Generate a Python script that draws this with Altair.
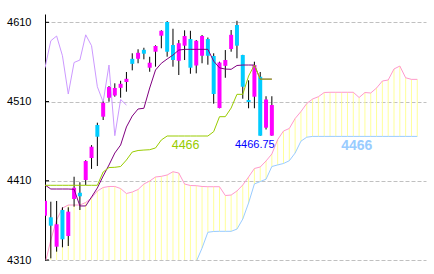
import altair as alt
import pandas as pd

# ---- candle data (index 0..39) ----
opens = [4365.9, 4363.9, 4326.8, 4373.1, 4340.3, 4387.0, 4394.9, 4411.0, 4438.7, 4480.4,
         4490.9, 4514.8, 4517.6, 4527.3, 4534.7, 4563.9, 4564.0, 4575.3, 4552.7, 4572.9,
         4593.1, 4610.4, 4581.4, 4561.5, 4580.5, 4588.9, 4555.5, 4567.8, 4588.9, 4567.5,
         4501.8, 4555.1, 4576.3, 4606.6, 4568.7, 4511.9, 4516.1, 4541.3, 4477.0, 4467.0]
closes = [4384.8, 4353.3, 4355.1, 4336.1, 4371.0, 4401.2, 4390.4, 4434.9, 4453.0, 4465.6,
          4508.5, 4528.3, 4527.1, 4532.4, 4538.7, 4557.6, 4571.5, 4570.4, 4559.0, 4580.1,
          4599.3, 4572.9, 4562.4, 4583.6, 4592.7, 4552.7, 4586.7, 4592.7, 4567.8, 4519.5,
          4559.3, 4562.4, 4594.2, 4580.5, 4528.7, 4509.4, 4556.1, 4466.9, 4512.6, 4505.6]
highs = [4388.0, 4383.6, 4384.5, 4376.5, 4376.5, 4415.1, 4408.1, 4436.0, 4455.0, 4483.3,
         4510.0, 4529.6, 4533.0, 4536.2, 4547.3, 4570.9, 4576.0, 4577.9, 4566.5, 4581.0,
         4600.0, 4611.6, 4601.9, 4587.7, 4599.9, 4599.3, 4587.7, 4594.0, 4590.8, 4570.9,
         4560.3, 4575.0, 4600.3, 4611.9, 4569.0, 4536.8, 4560.3, 4547.3, 4516.7, 4516.7]
lows = [4362.0, 4312.1, 4320.5, 4326.0, 4327.7, 4377.3, 4373.1, 4404.7, 4425.0, 4428.6,
        4486.7, 4509.8, 4516.1, 4514.8, 4522.4, 4549.4, 4558.3, 4563.3, 4547.6, 4554.0,
        4577.2, 4566.6, 4554.0, 4543.5, 4562.4, 4545.1, 4545.6, 4558.3, 4556.5, 4507.3,
        4501.5, 4540.0, 4572.9, 4564.6, 4513.6, 4501.5, 4501.5, 4466.9, 4474.7, 4466.75]

# ---- ichimoku lines ----
tenkan = [4404.7, 4399.6, 4399.6, 4399.6, 4399.6, 4399.2, 4378.2, 4378.2, 4389.5, 4400.9,
          4416.0, 4429.9, 4445.0, 4455.1, 4477.9, 4491.7, 4500.6, 4501.5, 4527.1, 4549.8,
          4558.3, 4563.7, 4568.7, 4575.0, 4575.9, 4575.9, 4575.9, 4575.9, 4575.9, 4561.0,
          4552.5, 4551.0, 4550.7, 4555.5, 4556.1, 4556.1, 4556.1, 4538.3, 4538.3, 4538.3]
kijun = [4404.3, 4404.3, 4404.3, 4404.3, 4404.3, 4404.3, 4404.3, 4404.3, 4404.3, 4404.3,
         4421.1, 4426.7, 4427.0, 4428.0, 4436.2, 4446.3, 4448.2, 4448.8, 4449.2, 4451.4,
         4461.5, 4466.5, 4466.5, 4466.5, 4466.5, 4466.5, 4466.5, 4466.5, 4466.5, 4472.0,
         4490.9, 4490.9, 4501.8, 4519.1, 4519.1, 4542.2, 4556.1, 4538.3, 4538.3, 4538.3]
span_a = [4305.0, 4335.2, 4360.5, 4375.6, 4379.4, 4379.4, 4379.4, 4382.6, 4388.3, 4397.1,
          4401.5, 4402.8, 4402.8, 4400.2, 4393.9, 4395.8, 4399.0, 4405.9, 4409.7, 4414.8,
          4415.6, 4417.3, 4421.4, 4419.8, 4405.9, 4404.0, 4403.8, 4402.8, 4402.5, 4402.5,
          4402.5, 4391.4, 4392.0, 4397.1, 4404.7, 4414.8, 4425.5, 4427.4, 4435.0, 4443.8,
          4462.0, 4472.8, 4476.0, 4488.6, 4497.4, 4507.5, 4513.2, 4516.1, 4521.4, 4521.7,
          4521.7, 4521.7, 4521.7, 4521.7, 4515.1, 4521.4, 4520.8, 4527.1, 4535.9, 4537.2,
          4551.1, 4554.8, 4540.0, 4538.0, 4538.0]
span_b = [4290.0] * 26 + [4308.0, 4325.0, 4345.0, 4346.0, 4346.2, 4346.2, 4346.2, 4349.0,
          4361.7, 4382.0, 4406.0, 4409.0, 4412.0, 4428.0, 4430.0, 4431.8, 4435.3, 4445.0,
          4460.0, 4465.0] + [4466.0] * 19
SHIFT = 25
y_ticks = [4310, 4410, 4510, 4610]

# ---- tables ----
candles = pd.DataFrame({"i": list(range(len(opens))), "open": opens, "close": closes,
                        "high": highs, "low": lows})
candles["dir"] = ["up" if c >= o else "down" for o, c in zip(opens, closes)]
cloud = pd.DataFrame({"i": list(range(len(span_a))), "a": span_a, "b": span_b})
tk = pd.DataFrame({"i": list(range(len(tenkan))), "v": tenkan})
kj = pd.DataFrame({"i": list(range(len(kijun))), "v": kijun})
chikou = pd.DataFrame({"i": list(range(len(closes) - SHIFT)), "v": closes[SHIFT:]})
ticks = pd.DataFrame({"t": y_ticks})

xs = alt.Scale(domain=[0, 65.5], nice=False, zero=False)
ys = alt.Scale(domain=[4310, 4620.5], nice=False, zero=False)
X = lambda f="i": alt.X(f"{f}:Q", scale=xs, axis=None)
yaxis = alt.Axis(values=y_ticks, format="d", grid=True, gridColor="#C0C0C0",
                 gridDash=[4, 2], ticks=False, domainColor="black",
                 labelFont="Liberation Sans", labelFontSize=11, labelColor="black",
                 labelPadding=14, title=None)

base_grid = alt.Chart(ticks).mark_rule(color="black", strokeWidth=1).encode(
    y=alt.Y("t:Q", scale=ys, axis=yaxis), x=alt.value(0), x2=alt.value(4))

cloud_rules = alt.Chart(cloud).mark_rule(color="#FFFF99", strokeWidth=1, clip=True).encode(
    x=X(), y=alt.Y("a:Q", scale=ys), y2="b:Q")
line_a = alt.Chart(cloud).mark_line(color="#FF99CC", strokeWidth=1, clip=True).encode(
    x=X(), y=alt.Y("a:Q", scale=ys))
line_b = alt.Chart(cloud).mark_line(color="#99CCFF", strokeWidth=1, clip=True).encode(
    x=X(), y=alt.Y("b:Q", scale=ys))
line_ch = alt.Chart(chikou).mark_line(color="#CC99FF", strokeWidth=1, clip=True).encode(
    x=X(), y=alt.Y("v:Q", scale=ys))
wicks = alt.Chart(candles).mark_rule(color="black", strokeWidth=1, clip=True).encode(
    x=X(), y=alt.Y("low:Q", scale=ys), y2="high:Q")
bodies = alt.Chart(candles).mark_rule(strokeWidth=4, clip=True).encode(
    x=X(), y=alt.Y("open:Q", scale=ys), y2="close:Q",
    color=alt.Color("dir:N", scale=alt.Scale(domain=["up", "down"],
                                             range=["#FF00FF", "#00CCFF"]), legend=None))
line_tk = alt.Chart(tk).mark_line(color="#800080", strokeWidth=1, clip=True).encode(
    x=X(), y=alt.Y("v:Q", scale=ys))
line_kj = alt.Chart(kj).mark_line(color="#99CC00", strokeWidth=1, clip=True).encode(
    x=X(), y=alt.Y("v:Q", scale=ys))

lab_kj = pd.DataFrame({"i": [24], "v": [kijun[24]], "t": [str(int(kijun[24]))]})
lab_px = pd.DataFrame({"i": [39], "v": [lows[39]], "t": [f"{lows[39]:.2f}"]})
lab_b = pd.DataFrame({"i": [54], "v": [span_b[54]], "t": [str(int(span_b[54]))]})

t1 = alt.Chart(lab_kj).mark_text(color="#99CC00", font="Liberation Sans", fontSize=12.5,
                                 dx=1, dy=9, baseline="middle", align="center").encode(
    x=X(), y=alt.Y("v:Q", scale=ys), text="t:N")
t2 = alt.Chart(lab_px).mark_text(color="#0000FF", font="Liberation Sans", fontSize=11,
                                 dx=-17, dy=9, baseline="middle", align="center").encode(
    x=X(), y=alt.Y("v:Q", scale=ys), text="t:N")
t3 = alt.Chart(lab_b).mark_text(color="#99CCFF", font="Liberation Sans", fontSize=14,
                                fontWeight="bold", dx=-2.4, dy=10, baseline="middle",
                                align="center").encode(
    x=X(), y=alt.Y("v:Q", scale=ys), text="t:N")

chart = alt.layer(base_grid, cloud_rules, line_a, line_b, line_ch, wicks, bodies,
                  line_tk, line_kj, t1, t2, t3).properties(
    width=381, height=246,
    padding={"left": 45, "top": 14, "right": 8, "bottom": 14},
    autosize=alt.AutoSizeParams(type="none"),
    background="white",
).configure_view(stroke=None)

chart.save("out.html", embed_options={"renderer": "svg", "actions": False})
